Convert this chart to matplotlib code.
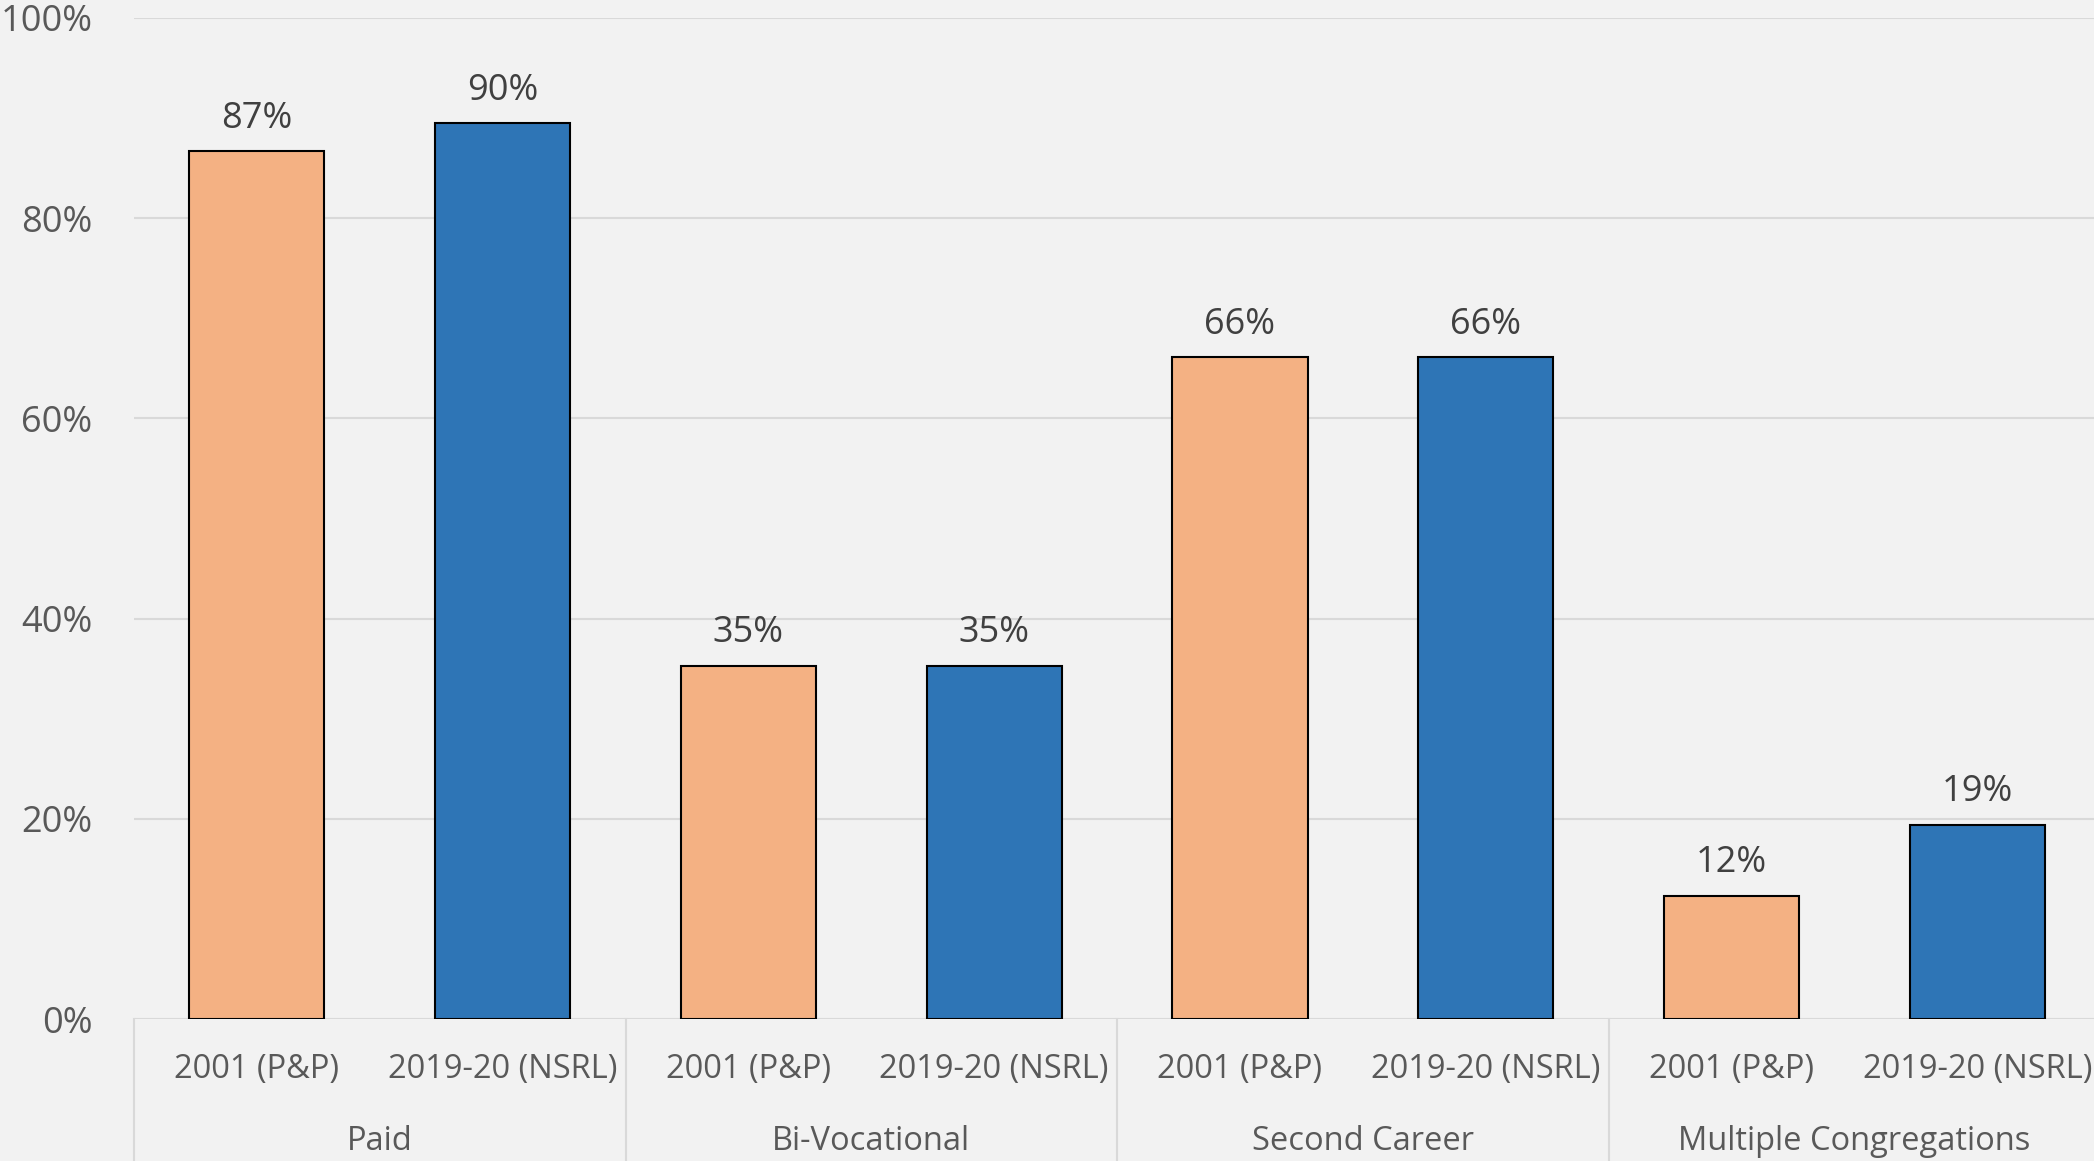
import numpy as np
import matplotlib.pyplot as plt
from matplotlib.ticker import FuncFormatter

# === DATA ===
groups = ["Paid", "Bi-Vocational", "Second Career", "Multiple Congregations"]
series = ["2001 (P&P)", "2019-20 (NSRL)"]
vals_2001 = [86.7, 35.3, 66.1, 12.3]
vals_2019 = [89.5, 35.3, 66.1, 19.4]
labels_2001 = ["87%", "35%", "66%", "12%"]
labels_2019 = ["90%", "35%", "66%", "19%"]

ORANGE = "#F4B183"
BLUE = "#2E75B6"
BG = "#F2F2F2"
GRID = "#D9D9D9"

plt.rcParams.update({"font.family": ["Open Sans", "DejaVu Sans"]})

fig = plt.figure(figsize=(20.94, 11.61), dpi=100, facecolor=BG)
ax = fig.add_axes([0.0640, 0.1223, 0.9389, 0.8622], facecolor=BG)

# interleave: per group first 2001, then 2019
heights = []
colors = []
texts = []
for v1, v2, l1, l2 in zip(vals_2001, vals_2019, labels_2001, labels_2019):
    heights += [v1, v2]
    colors += [ORANGE, BLUE]
    texts += [l1, l2]
x = np.arange(len(heights))

bars = ax.bar(x, heights, width=0.55, color=colors, edgecolor="black",
              linewidth=1.5, zorder=3)
for bar, t in zip(bars, texts):
    ax.annotate(t, (bar.get_x() + bar.get_width() / 2, bar.get_height()),
                xytext=(0, 10.5), textcoords="offset points",
                ha="center", va="bottom", fontsize=26, color="#404040")

ax.set_xlim(-0.5, len(heights) - 0.5)
ax.set_ylim(0, 100)
ax.set_yticks(np.arange(0, 101, 20))
ax.yaxis.set_major_formatter(FuncFormatter(lambda v, p: f"{v:.0f}%"))
ax.tick_params(axis="y", length=0, pad=30, labelsize=26, labelcolor="#595959")
ax.set_xticks([])
ax.grid(axis="y", color=GRID, linewidth=1.5, zorder=0)
for s in ax.spines.values():
    s.set_visible(False)

# category labels + group labels
trans = ax.get_xaxis_transform()
for i in x:
    ax.text(i, -0.05, series[i % 2], transform=trans, ha="center",
            va="center", fontsize=23.5, color="#595959")
for g, name in enumerate(groups):
    ax.text(2 * g + 0.5, -0.122, name, transform=trans, ha="center",
            va="center", fontsize=23.5, color="#595959")
for b in np.arange(-0.5, len(heights), 2):
    ax.plot([b, b], [0, -0.16], transform=trans, color=GRID,
            linewidth=1.5, clip_on=False)

fig.savefig("out.png", dpi=100, facecolor=BG)
